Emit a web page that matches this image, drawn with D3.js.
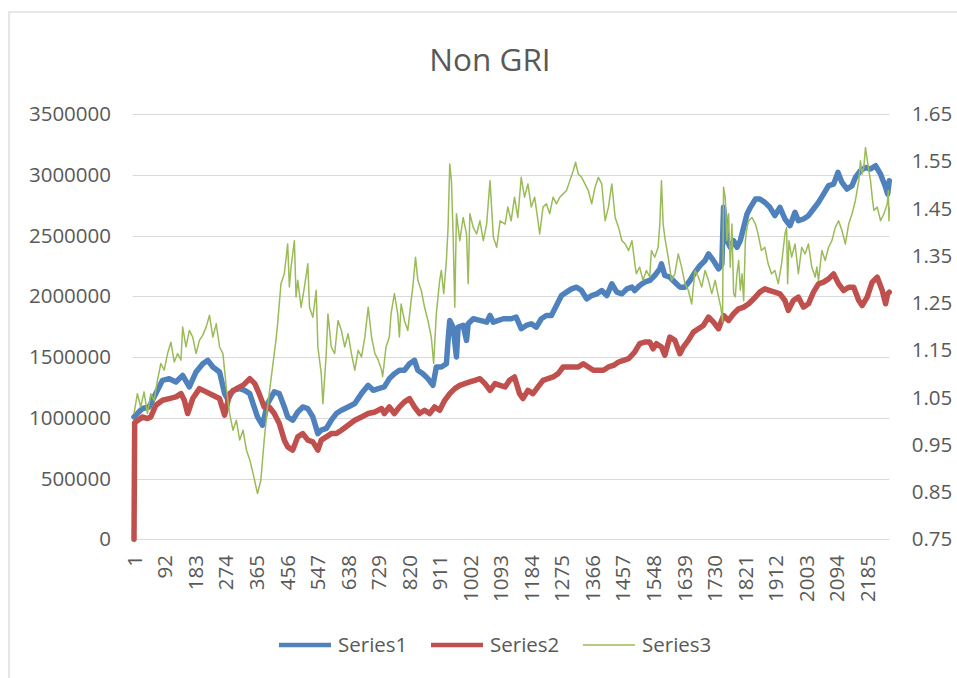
<!DOCTYPE html>
<html><head><meta charset="utf-8">
<script src="https://cdn.jsdelivr.net/npm/d3@7"></script>
<style>
body{margin:0;background:#fff}
svg text{font-family:"Open Sans",sans-serif;fill:#595959}
</style>
</head><body>
<svg id="c" width="957" height="678"></svg>
<script>
const chartTitle = "Non GRI";
const leftTicks = [0,500000,1000000,1500000,2000000,2500000,3000000,3500000];
const rightTicks = [0.75,0.85,0.95,1.05,1.15,1.25,1.35,1.45,1.55,1.65];
const xTickLabels = [1,92,183,274,365,456,547,638,729,820,911,1002,1093,1184,1275,1366,1457,1548,1639,1730,1821,1912,2003,2094,2185];
const xCount = 2252;
const seriesNames = ["Series1","Series2","Series3"];
const seriesColors = ["#4F81BD","#C0504D","#9BBB59"];

// [category index, value] — Series1 (left axis)
const series1 = [[1,1007000],[26,1076000],[46,1089000],[66,1199000],[86,1308000],[106,1322000],[126,1295000],[146,1349000],[166,1254000],[186,1377000],[206,1445000],[221,1473000],[236,1418000],[256,1377000],[271,1199000],[281,1150000],[296,1226000],[316,1240000],[331,1226000],[346,1199000],[359,1089000],[369,1007000],[384,939000],[399,1117000],[419,1213000],[434,1199000],[449,1089000],[459,1007000],[474,980000],[489,1048000],[504,1089000],[519,1076000],[534,1007000],[549,870000],[559,898000],[574,912000],[589,980000],[604,1035000],[619,1062000],[639,1089000],[659,1117000],[679,1199000],[699,1267000],[714,1226000],[729,1240000],[747,1254000],[762,1322000],[777,1363000],[792,1391000],[807,1391000],[822,1445000],[837,1473000],[847,1391000],[862,1363000],[877,1322000],[892,1267000],[902,1418000],[917,1418000],[932,1445000],[937,1637000],[942,1801000],[952,1746000],[962,1500000],[967,1746000],[982,1760000],[992,1637000],[997,1774000],[1012,1815000],[1032,1801000],[1052,1787000],[1062,1842000],[1072,1787000],[1087,1801000],[1102,1815000],[1125,1815000],[1140,1829000],[1155,1733000],[1170,1760000],[1185,1774000],[1200,1746000],[1215,1815000],[1230,1842000],[1245,1842000],[1260,1924000],[1275,2006000],[1290,2034000],[1305,2061000],[1320,2075000],[1335,2047000],[1350,1979000],[1365,2006000],[1380,2020000],[1395,2047000],[1410,2006000],[1425,2102000],[1440,2034000],[1455,2020000],[1470,2061000],[1485,2075000],[1493,2047000],[1508,2089000],[1523,2116000],[1538,2130000],[1553,2171000],[1568,2225000],[1573,2266000],[1583,2171000],[1598,2157000],[1613,2116000],[1628,2075000],[1643,2075000],[1658,2130000],[1673,2198000],[1688,2253000],[1703,2294000],[1713,2349000],[1728,2294000],[1743,2225000],[1753,2266000],[1758,2732000],[1763,2622000],[1768,2458000],[1778,2403000],[1788,2458000],[1798,2403000],[1808,2458000],[1818,2568000],[1828,2677000],[1838,2732000],[1853,2800000],[1866,2800000],[1881,2773000],[1896,2732000],[1911,2663000],[1926,2732000],[1941,2636000],[1956,2581000],[1971,2691000],[1981,2622000],[1996,2636000],[2011,2663000],[2026,2718000],[2041,2773000],[2056,2841000],[2071,2910000],[2086,2923000],[2099,3019000],[2111,2937000],[2126,2882000],[2141,2910000],[2151,2978000],[2166,3033000],[2181,3060000],[2196,3047000],[2211,3074000],[2226,3005000],[2241,2896000],[2247,2841000],[2252,2951000]];

// Series2 (left axis)
const series2 = [[1,0],[3,960000],[6,966000],[26,1007000],[41,994000],[51,1007000],[66,1103000],[86,1144000],[106,1158000],[126,1172000],[141,1199000],[151,1144000],[161,1035000],[176,1158000],[196,1240000],[216,1213000],[236,1185000],[256,1158000],[271,1021000],[286,1199000],[306,1240000],[326,1267000],[346,1322000],[361,1281000],[374,1199000],[389,1089000],[404,1089000],[419,1035000],[434,953000],[449,816000],[459,761000],[474,734000],[489,843000],[504,870000],[519,816000],[534,802000],[549,734000],[559,816000],[574,843000],[589,870000],[604,870000],[619,898000],[639,939000],[659,980000],[679,1007000],[699,1035000],[719,1048000],[739,1076000],[747,1035000],[762,1089000],[777,1035000],[792,1089000],[807,1131000],[822,1158000],[837,1089000],[852,1035000],[867,1062000],[882,1035000],[897,1089000],[912,1062000],[927,1144000],[942,1199000],[957,1240000],[972,1267000],[987,1281000],[1002,1295000],[1017,1308000],[1032,1322000],[1047,1281000],[1062,1226000],[1077,1281000],[1092,1267000],[1107,1254000],[1120,1308000],[1135,1336000],[1150,1199000],[1160,1158000],[1175,1226000],[1190,1199000],[1205,1254000],[1220,1308000],[1235,1322000],[1250,1336000],[1265,1363000],[1280,1418000],[1295,1418000],[1310,1418000],[1325,1418000],[1340,1445000],[1355,1418000],[1370,1391000],[1385,1391000],[1400,1391000],[1415,1418000],[1430,1431000],[1445,1459000],[1460,1473000],[1475,1486000],[1493,1541000],[1508,1610000],[1523,1623000],[1538,1623000],[1548,1568000],[1558,1610000],[1573,1582000],[1583,1514000],[1598,1664000],[1613,1637000],[1628,1527000],[1638,1582000],[1653,1637000],[1668,1705000],[1683,1733000],[1698,1760000],[1713,1829000],[1728,1787000],[1743,1733000],[1758,1842000],[1773,1801000],[1788,1856000],[1803,1897000],[1818,1911000],[1833,1938000],[1848,1979000],[1866,2034000],[1881,2061000],[1896,2047000],[1911,2034000],[1926,2020000],[1941,1965000],[1951,1883000],[1966,1965000],[1981,1993000],[1996,1911000],[2011,1938000],[2026,2034000],[2041,2102000],[2056,2116000],[2071,2143000],[2086,2184000],[2101,2102000],[2116,2047000],[2131,2075000],[2146,2075000],[2161,1965000],[2171,1924000],[2186,1993000],[2201,2116000],[2216,2157000],[2231,2047000],[2241,1938000],[2247,2020000],[2252,2034000]];

// Series3 (right axis)
const series3 = [[1,1.016],[11,1.058],[21,1.030],[31,1.062],[41,1.016],[51,1.058],[61,1.044],[71,1.087],[81,1.122],[91,1.108],[101,1.143],[111,1.167],[121,1.125],[131,1.143],[141,1.129],[146,1.199],[156,1.157],[166,1.192],[176,1.178],[186,1.143],[196,1.171],[206,1.182],[216,1.199],[226,1.224],[236,1.178],[246,1.206],[256,1.157],[266,1.143],[276,1.072],[286,1.016],[296,0.981],[306,1.002],[316,0.960],[326,0.981],[336,0.939],[346,0.918],[356,0.889],[369,0.847],[379,0.875],[389,0.960],[399,1.030],[409,1.087],[419,1.143],[424,1.171],[429,1.206],[439,1.291],[449,1.312],[459,1.375],[464,1.284],[469,1.326],[479,1.382],[484,1.263],[489,1.298],[499,1.241],[509,1.284],[519,1.333],[524,1.241],[534,1.220],[544,1.277],[549,1.157],[559,1.101],[564,1.037],[574,1.143],[579,1.227],[589,1.157],[599,1.143],[609,1.213],[619,1.192],[629,1.157],[639,1.185],[649,1.143],[659,1.108],[669,1.150],[679,1.136],[689,1.178],[699,1.241],[709,1.178],[719,1.143],[729,1.129],[739,1.108],[742,1.094],[752,1.157],[762,1.178],[767,1.227],[777,1.270],[787,1.227],[792,1.178],[797,1.248],[807,1.213],[817,1.192],[827,1.255],[832,1.284],[840,1.347],[847,1.298],[857,1.277],[867,1.241],[877,1.213],[887,1.178],[894,1.122],[902,1.227],[912,1.298],[917,1.319],[924,1.270],[932,1.340],[937,1.410],[942,1.544],[947,1.509],[952,1.396],[957,1.241],[962,1.439],[972,1.382],[982,1.431],[992,1.396],[997,1.291],[1002,1.439],[1012,1.410],[1022,1.396],[1032,1.424],[1042,1.382],[1052,1.417],[1062,1.509],[1072,1.389],[1082,1.368],[1092,1.424],[1107,1.417],[1115,1.453],[1125,1.424],[1135,1.474],[1145,1.431],[1155,1.516],[1165,1.474],[1175,1.502],[1185,1.453],[1195,1.474],[1205,1.424],[1210,1.396],[1220,1.453],[1230,1.460],[1240,1.439],[1250,1.474],[1260,1.460],[1270,1.474],[1280,1.481],[1290,1.488],[1300,1.509],[1310,1.530],[1317,1.548],[1325,1.523],[1335,1.516],[1345,1.502],[1355,1.488],[1365,1.460],[1375,1.495],[1385,1.516],[1395,1.502],[1405,1.424],[1415,1.453],[1425,1.502],[1435,1.431],[1445,1.410],[1455,1.382],[1465,1.375],[1475,1.361],[1485,1.382],[1495,1.326],[1498,1.312],[1508,1.326],[1518,1.298],[1528,1.319],[1538,1.305],[1543,1.361],[1553,1.347],[1563,1.368],[1568,1.417],[1573,1.509],[1578,1.417],[1583,1.389],[1593,1.347],[1603,1.298],[1613,1.312],[1623,1.354],[1633,1.326],[1643,1.291],[1653,1.277],[1663,1.248],[1673,1.319],[1683,1.305],[1693,1.284],[1703,1.319],[1713,1.298],[1723,1.270],[1733,1.298],[1743,1.263],[1750,1.241],[1755,1.210],[1758,1.495],[1763,1.474],[1768,1.382],[1773,1.439],[1778,1.326],[1783,1.417],[1788,1.270],[1793,1.263],[1798,1.312],[1803,1.340],[1808,1.277],[1813,1.312],[1818,1.255],[1823,1.382],[1828,1.410],[1833,1.424],[1843,1.431],[1853,1.417],[1861,1.396],[1871,1.361],[1881,1.368],[1891,1.333],[1901,1.312],[1911,1.319],[1921,1.291],[1931,1.333],[1941,1.396],[1946,1.410],[1949,1.291],[1953,1.382],[1961,1.347],[1971,1.375],[1981,1.312],[1991,1.368],[2001,1.354],[2011,1.375],[2021,1.326],[2031,1.305],[2036,1.326],[2041,1.298],[2051,1.361],[2061,1.340],[2071,1.368],[2081,1.382],[2091,1.410],[2101,1.424],[2111,1.403],[2121,1.375],[2131,1.417],[2141,1.439],[2151,1.467],[2161,1.509],[2166,1.551],[2171,1.523],[2176,1.537],[2181,1.579],[2191,1.530],[2196,1.509],[2201,1.474],[2206,1.446],[2216,1.453],[2226,1.424],[2236,1.439],[2246,1.460],[2249,1.488],[2251,1.424],[2252,1.453]];

const plot = {left:132.7, right:889.3, top:114, bottom:539.3};
const svg = d3.select("#c");

// chart area border (top & left visible)
svg.append("rect").attr("x",9).attr("y",12).attr("width",1000).attr("height",1000)
  .attr("fill","none").attr("stroke","#d9d9d9").attr("stroke-width",1.3);

svg.append("text").attr("x",490).attr("y",70.5).attr("text-anchor","middle")
  .style("font-size","31.5px").text(chartTitle);

const x = d3.scaleLinear().domain([1,xCount]).range([134,plot.right]);
const yL = d3.scaleLinear().domain([0,3500000]).range([plot.bottom,plot.top]);
const yR = d3.scaleLinear().domain([0.75,1.65]).range([plot.bottom,plot.top]);

// gridlines
svg.append("g").selectAll("line").data(leftTicks).join("line")
  .attr("x1",plot.left).attr("x2",plot.right)
  .attr("y1",d=>Math.round(yL(d))+0.5).attr("y2",d=>Math.round(yL(d))+0.5)
  .attr("stroke","#d9d9d9").attr("stroke-width",1.2);

const fs = "20.5px";
const gL = svg.append("g").attr("transform",`translate(${plot.left},0)`)
  .call(d3.axisLeft(yL).tickValues(leftTicks).tickSize(0).tickPadding(21.7).tickFormat(d3.format("d")));
gL.select(".domain").remove();
gL.selectAll("text").style("font-size",fs).attr("fill","#595959").attr("font-family","Open Sans");

const gR = svg.append("g").attr("transform",`translate(${plot.right},0)`)
  .call(d3.axisRight(yR).tickValues(rightTicks).tickSize(0).tickPadding(22.4).tickFormat(d3.format(".2f")));
gR.select(".domain").remove();
gR.selectAll("text").style("font-size",fs).attr("fill","#595959").attr("font-family","Open Sans");

const gX = svg.append("g").attr("transform",`translate(0,${plot.bottom})`)
  .call(d3.axisBottom(x).tickValues(xTickLabels).tickSize(0).tickFormat(d3.format("d")));
gX.select(".domain").remove();
gX.selectAll("text").style("font-size",fs).attr("fill","#595959").attr("font-family","Open Sans")
  .attr("transform","rotate(-90)").attr("x",-15.7).attr("y",0).attr("dy","0.36em")
  .style("text-anchor","end");

const lineL = d3.line().x(d=>x(d[0])).y(d=>yL(d[1]));
const lineR = d3.line().x(d=>x(d[0])).y(d=>yR(d[1]));

svg.append("path").datum(series1).attr("d",lineL).attr("fill","none")
  .attr("stroke",seriesColors[0]).attr("stroke-width",5.5).attr("stroke-linejoin","round").attr("stroke-linecap","round");
svg.append("path").datum(series2).attr("d",lineL).attr("fill","none")
  .attr("stroke",seriesColors[1]).attr("stroke-width",5.5).attr("stroke-linejoin","round").attr("stroke-linecap","round");
svg.append("path").datum(series3).attr("d",lineR).attr("fill","none")
  .attr("stroke",seriesColors[2]).attr("stroke-width",1.5).attr("stroke-linejoin","round");

// legend
const legendStart = [279, 431, 583];
const legendW = [4.5, 4.5, 1.6];
const lg = svg.append("g").selectAll("g").data(seriesNames).join("g")
  .attr("transform",(d,i)=>`translate(${legendStart[i]},645)`);
lg.append("line").attr("x1",0).attr("x2",52).attr("y1",0).attr("y2",0)
  .attr("stroke",(d,i)=>seriesColors[i]).attr("stroke-width",(d,i)=>legendW[i]);
lg.append("text").attr("x",59).attr("dy","0.36em").style("font-size",fs).text(d=>d);
</script>
</body></html>
